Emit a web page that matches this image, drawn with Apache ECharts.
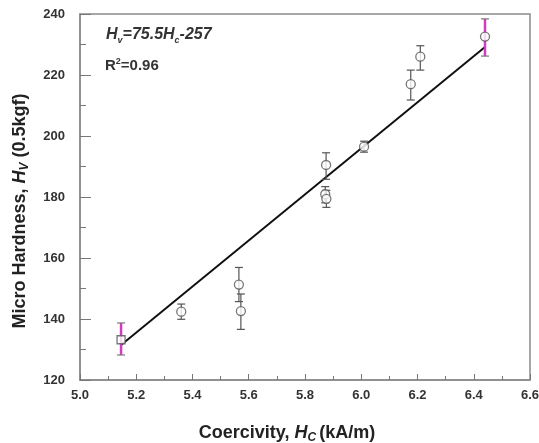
<!DOCTYPE html>
<html>
<head>
<meta charset="utf-8">
<script src="https://cdn.jsdelivr.net/npm/echarts@6/dist/echarts.min.js"></script>
<style>
  html, body { margin: 0; padding: 0; background: #fff; }
  #chart { width: 539px; height: 443px; }
</style>
</head>
<body>
<div id="chart"></div>
<script>
// measured points (coercivity kA/m, micro hardness)
const hc = [5.146, 5.36, 5.565, 5.572, 5.875, 5.872, 5.876, 6.01, 6.176, 6.21, 6.44];
const hv = [133.2, 142.4, 151.3, 142.6, 190.5, 180.9, 179.4, 196.5, 217.0, 226.0, 232.6];
const errUp = [5.5, 2.5, 5.6, 5.6, 4.0, 2.5, 2.8, 1.8, 4.6, 3.6, 5.8];
const errDown = [5.0, 2.5, 5.6, 6.0, 4.7, 2.8, 2.8, 1.8, 5.2, 4.4, 6.4];
const highlight = [true, false, false, false, false, false, false, false, false, false, true];
// linear fit line end points
const fitX = [5.146, 6.44];
const fitY = [131.5, 229.2];

const xTicks = ['5.0', '5.2', '5.4', '5.6', '5.8', '6.0', '6.2', '6.4', '6.6'];
const yTicks = ['120', '140', '160', '180', '200', '220', '240'];

const chart = echarts.init(document.getElementById('chart'));

const pts = hc.map((x, i) => [x, hv[i], hv[i] + errUp[i], hv[i] - errDown[i], highlight[i] ? 1 : 0]);

const font = 'Liberation Sans, Arial, sans-serif';

chart.setOption({
  animation: false,
  grid: {
    left: 80, right: 9, top: 14, bottom: 63, show: true, borderColor: '#8a8a8a', borderWidth: 1.5,
    outerBoundsMode: 'none'
  },
  xAxis: {
    type: 'value', min: 5.0, max: 6.6, interval: 0.2,
    minorTick: { show: true, splitNumber: 2, length: 4, lineStyle: { color: '#777' } },
    axisLine: { lineStyle: { color: '#8a8a8a', width: 1.5 } },
    axisTick: { inside: true, length: 6, lineStyle: { color: '#777' } },
    splitLine: { show: false },
    axisLabel: {
      formatter: v => xTicks.find(t => Math.abs(parseFloat(t) - v) < 1e-6) || '',
      color: '#333', fontWeight: 'bold', fontSize: 13, fontFamily: font, margin: 9
    },
    name: '{n|Coercivity, }{i|H}{s|C}{n|(kA/m)}',
    nameLocation: 'middle', nameGap: 43,
    nameTextStyle: {
      padding: [0, 36, 0, 0],
      rich: {
        n: { fontSize: 18, fontWeight: 'bold', color: '#222', fontFamily: font },
        i: { fontSize: 18, fontWeight: 'bold', fontStyle: 'italic', color: '#222', fontFamily: font },
        s: { fontSize: 12, fontWeight: 'bold', fontStyle: 'italic', color: '#222', fontFamily: font, verticalAlign: 'bottom', padding: [9, 3, 0, 0] }
      }
    }
  },
  yAxis: {
    type: 'value', min: 120, max: 240, interval: 20,
    minorTick: { show: true, splitNumber: 2, length: 6, lineStyle: { color: '#777' } },
    axisLine: { lineStyle: { color: '#8a8a8a', width: 1.5 } },
    axisTick: { inside: true, length: 11, lineStyle: { color: '#777' } },
    splitLine: { show: false },
    axisLabel: {
      formatter: v => yTicks.find(t => parseFloat(t) === v) || '',
      color: '#333', fontWeight: 'bold', fontSize: 13, fontFamily: font, margin: 15
    },
    name: '{n|Micro Hardness, }{i|H}{s|V}{n| (0.5kgf)}',
    nameLocation: 'middle', nameGap: 49,
    nameTextStyle: {
      padding: [0, 28, 0, 0],
      rich: {
        n: { fontSize: 18, fontWeight: 'bold', color: '#222', fontFamily: font },
        i: { fontSize: 18, fontWeight: 'bold', fontStyle: 'italic', color: '#222', fontFamily: font },
        s: { fontSize: 12, fontWeight: 'bold', fontStyle: 'italic', color: '#222', fontFamily: font, verticalAlign: 'bottom', padding: [9, 0, 0, 0] }
      }
    }
  },
  series: [
    {
      type: 'line',
      data: fitX.map((x, i) => [x, fitY[i]]),
      symbol: 'none',
      lineStyle: { color: '#111', width: 2 },
      z: 2
    },
    {
      type: 'custom',
      data: pts,
      encode: { x: 0, y: [1, 2, 3] },
      renderItem: (params, api) => {
        const x = api.value(0);
        const top = api.coord([x, api.value(2)]);
        const bot = api.coord([x, api.value(3)]);
        const pink = api.value(4) === 1;
        const color = pink ? '#d23cc0' : '#555';
        const w = 4;
        return {
          type: 'group',
          children: [
            { type: 'line', shape: { x1: top[0], y1: top[1], x2: bot[0], y2: bot[1] }, style: { stroke: color, lineWidth: pink ? 2.5 : 1.2 } },
            { type: 'line', shape: { x1: top[0] - w, y1: top[1], x2: top[0] + w, y2: top[1] }, style: { stroke: pink ? '#777' : color, lineWidth: 1.2 } },
            { type: 'line', shape: { x1: bot[0] - w, y1: bot[1], x2: bot[0] + w, y2: bot[1] }, style: { stroke: pink ? '#777' : color, lineWidth: 1.2 } }
          ]
        };
      },
      z: 3
    },
    {
      type: 'scatter',
      data: pts.map((p, i) => ({
        value: [p[0], p[1]],
        symbol: i === 0 ? 'rect' : 'circle',
        symbolSize: i === 0 ? 8 : 9
      })),
      itemStyle: { color: '#fff', borderColor: '#555', borderWidth: 1.3 },
      z: 4
    }
  ],
  graphic: [
    {
      type: 'text', left: 106, top: 27,
      style: {
        text: '{i|H}{s|v}{n|=75.5}{i|H}{s|c}{n|-257}',
        rich: {
          n: { fontSize: 16, fontWeight: 'bold', fontStyle: 'italic', fill: '#333', fontFamily: font },
          i: { fontSize: 16, fontWeight: 'bold', fontStyle: 'italic', fill: '#333', fontFamily: font },
          s: { fontSize: 9, fontWeight: 'bold', fontStyle: 'italic', fill: '#333', fontFamily: font, verticalAlign: 'bottom', padding: [11, 0, 0, 0] }
        }
      }
    },
    {
      type: 'text', left: 105, top: 57,
      style: {
        text: '{n|R}{p|2}{n|=0.96}',
        rich: {
          n: { fontSize: 15, fontWeight: 'bold', fill: '#333', fontFamily: font },
          p: { fontSize: 9, fontWeight: 'bold', fill: '#333', fontFamily: font, verticalAlign: 'top', padding: [0, 0, 9, 0] }
        }
      }
    }
  ]
});
</script>
</body>
</html>
